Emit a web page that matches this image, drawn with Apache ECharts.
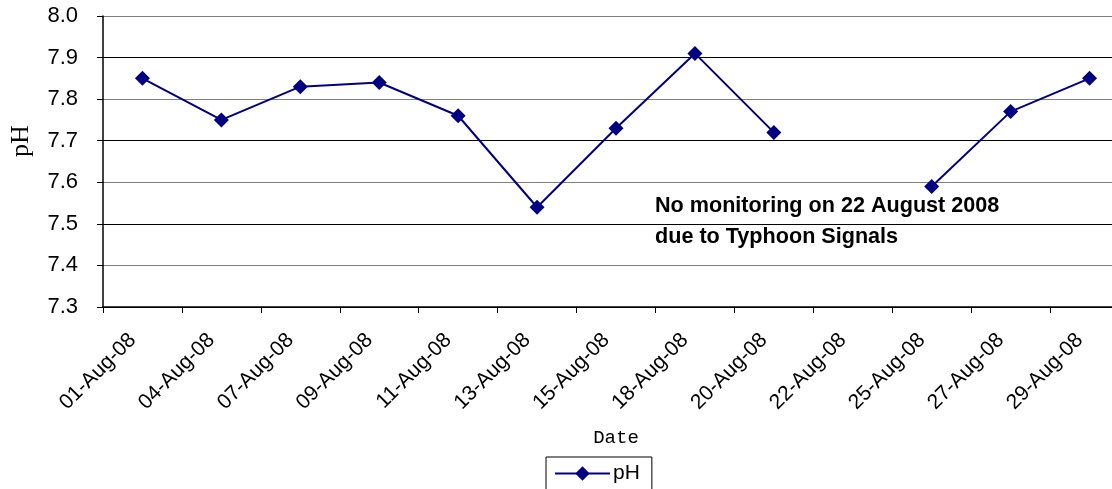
<!DOCTYPE html>
<html>
<head>
<meta charset="utf-8">
<script src="https://cdn.jsdelivr.net/npm/echarts@6/dist/echarts.min.js"></script>
<style>html,body{margin:0;padding:0;background:#fff}#c{width:1112px;height:489px}</style>
</head>
<body>
<div id="c"></div>
<script>
const categories = ['01-Aug-08','04-Aug-08','07-Aug-08','09-Aug-08','11-Aug-08','13-Aug-08','15-Aug-08','18-Aug-08','20-Aug-08','22-Aug-08','25-Aug-08','27-Aug-08','29-Aug-08'];
const phValues = [7.85, 7.75, 7.83, 7.84, 7.76, 7.54, 7.73, 7.91, 7.72, null, 7.59, 7.77, 7.85];
const yTicks = { min: 7.3, max: 8.0, interval: 0.1 };
const noteLines = ['No monitoring on 22 August 2008', 'due to Typhoon Signals'];

const chart = echarts.init(document.getElementById('c'), null, {renderer: 'canvas'});
chart.setOption({
  animation: false,
  backgroundColor: '#fff',
  grid: { left: 103, right: -17, top: 16, bottom: 182, containLabel: false, outerBoundsMode: 'none' },
  xAxis: {
    type: 'category',
    data: categories,
    boundaryGap: true,
    name: 'Date',
    nameLocation: 'middle',
    nameGap: 121,
    nameTextStyle: { fontFamily: 'Liberation Mono', fontSize: 19, color: '#000' },
    axisLine: { lineStyle: { color: '#000', width: 1.5 } },
    axisTick: { show: true, interval: 0, length: 6, lineStyle: { color: '#000' } },
    axisLabel: { interval: 0, rotate: 45, margin: 20, padding: [0, 14, 0, 0], fontFamily: 'Liberation Sans', fontSize: 21, color: '#000' },
    splitLine: { show: false }
  },
  yAxis: {
    type: 'value',
    min: yTicks.min, max: yTicks.max, interval: yTicks.interval,
    axisLine: { show: true, lineStyle: { color: '#000', width: 1.5 } },
    axisTick: { show: true, length: 6, lineStyle: { color: '#000' } },
    axisLabel: { margin: 25, fontFamily: 'Liberation Sans', fontSize: 22, color: '#000', formatter: v => v.toFixed(1) },
    splitLine: { show: true, lineStyle: { color: ['#000', '#808080'], width: 1.2 } }
  },
  legend: {
    data: ['pH'],
    left: 546,
    top: 457,
    orient: 'horizontal',
    itemWidth: 55,
    itemHeight: 18,
    itemGap: 4,
    padding: [6, 12, 12, 8],
    borderColor: '#000',
    borderWidth: 1,
    textStyle: { fontFamily: 'Liberation Sans', fontSize: 21, color: '#000', padding: [0, 0, 0, -2] }
  },
  series: [{
    name: 'pH',
    type: 'line',
    data: phValues,
    connectNulls: false,
    symbol: 'diamond',
    symbolSize: 15,
    showAllSymbol: true,
    lineStyle: { color: '#000080', width: 2 },
    itemStyle: { color: '#000080' }
  }],
  graphic: [{
    type: 'text',
    left: 655,
    top: 191,
    style: {
      text: noteLines.join('\n'),
      fontFamily: 'Liberation Sans',
      fontWeight: 'bold',
      fontSize: 21.6,
      lineHeight: 31,
      fill: '#000'
    }
  }, {
    type: 'text',
    x: 21,
    y: 141,
    rotation: Math.PI / 2,
    style: {
      text: 'pH',
      fontFamily: 'Liberation Serif',
      fontSize: 26,
      fill: '#000',
      align: 'center',
      verticalAlign: 'middle'
    }
  }]
});
</script>
</body>
</html>
